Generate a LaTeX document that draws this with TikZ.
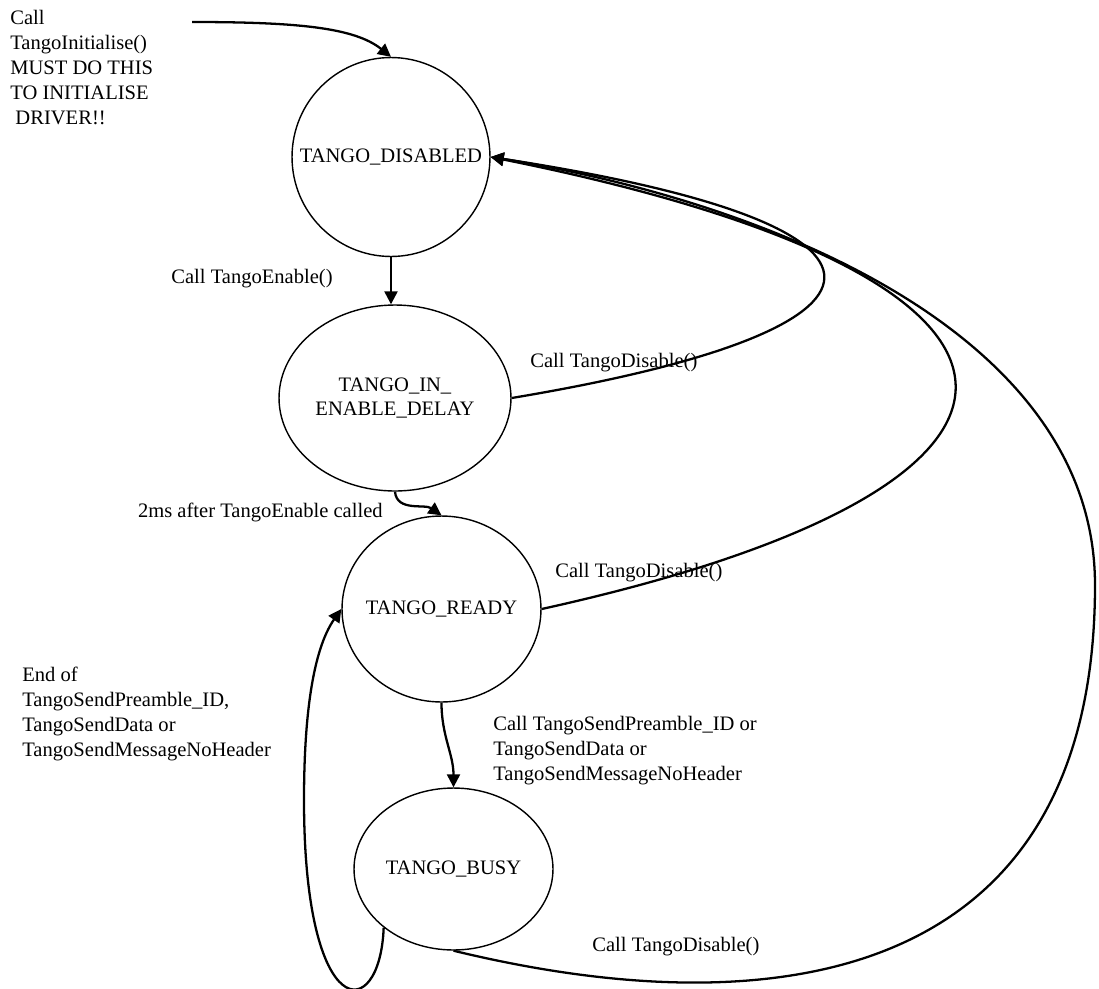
\documentclass[tikz,border=0pt]{standalone}
\usepackage{fontspec}
\setmainfont{Liberation Serif}
\usetikzlibrary{arrows.meta,shapes.geometric}
\newcommand{\diagfont}{\fontsize{11.7pt}{14.2pt}\selectfont}
\begin{document}
\begin{tikzpicture}[x=0.02cm,y=-0.02cm,every node/.style={font=\diagfont},>={Triangle[length=7.4pt,width=7.4pt]},
  tstate/.style={draw,ellipse,line width=0.8pt,inner sep=0pt},
  note/.style={inner sep=0pt},
  conn/.style={line width=1.3pt}]
\useasboundingbox (0,0) rectangle (1099,988);
\node[tstate,minimum width=3.96cm,minimum height=3.98cm,label=center:TANGO\_DISABLED] (dis) at (391,157) {};
\node[tstate,minimum width=4.64cm,minimum height=3.72cm,label={[align=center]center:TANGO\_IN\_\\ENABLE\_DELAY}] (ien) at (395,398) {};
\node[tstate,minimum width=3.98cm,minimum height=3.72cm,label=center:TANGO\_READY] (rdy) at (441.5,609) {};
\node[tstate,minimum width=3.98cm,minimum height=3.24cm,label=center:TANGO\_BUSY] (bsy) at (453.5,869) {};
\coordinate (init) at (192,22);
\coordinate (outer) at (1095,585);
\coordinate (loopl) at (304,800);
\node[note,anchor=north west,align=left] (initnote) at (10,10) {Call\\TangoInitialise()\\MUST DO THIS\\TO INITIALISE\\~DRIVER!!};
\node[note,anchor=west] (enable) at (171,279) {Call TangoEnable()};
\node[note,anchor=east] (delay) at (383,512) {2ms after TangoEnable called};
\node[note,anchor=west] (disa) at (530,363) {Call TangoDisable()};
\node[note,anchor=west] (disb) at (555,573) {Call TangoDisable()};
\node[note,anchor=north west,align=left] (send) at (493,716) {Call TangoSendPreamble\_ID or\\TangoSendData or\\TangoSendMessageNoHeader};
\node[note,anchor=west] (disc) at (592,947) {Call TangoDisable()};
\node[note,anchor=north west,align=left] (endof) at (22,667) {End of\\TangoSendPreamble\_ID,\\TangoSendData or\\TangoSendMessageNoHeader};
\draw[conn,->] (init) .. controls (300,22) and (355,28) .. (dis.north);
\draw[conn,->] (dis.south) -- (dis.south |- ien.north);
\draw[conn,->] (ien.south) to[out=-85,in=145] (rdy.north);
\draw[conn,->] (rdy.south) to[out=-90,in=90] (bsy.north);
\draw[conn,->] (ien.east) .. controls (920,330) and (940,226) .. (dis.east);
\draw[conn,->] (rdy.east) .. controls (1100,486) and (1100,279) .. (dis.east);
\draw[conn,->] (bsy.south) .. controls (780,1030) and (1095,980) .. (outer) .. controls (1095,330) and (760,200) .. (dis.east);
\draw[conn,->] (bsy.220) .. controls (380,1025) and (304,1025) .. (loopl) .. controls (304,720) and (312,651) .. (rdy.west);
\end{tikzpicture}
\end{document}
